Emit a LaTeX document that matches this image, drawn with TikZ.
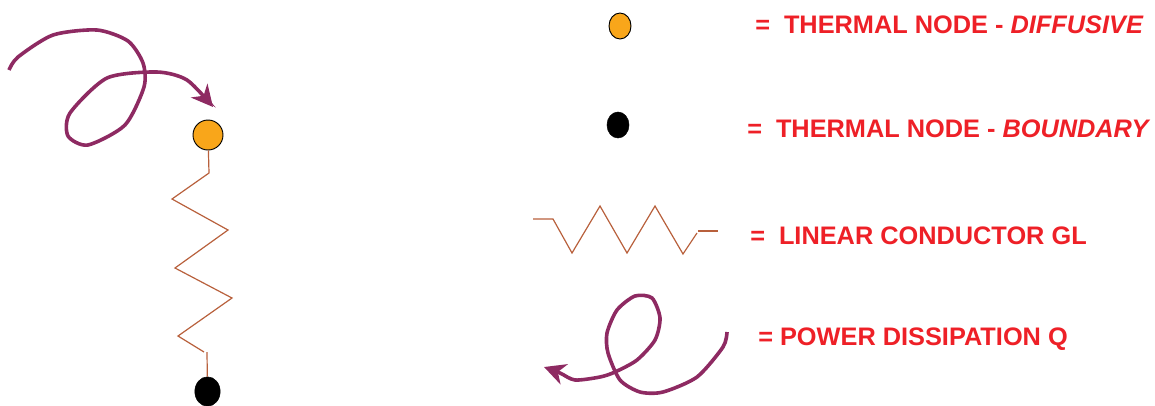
\documentclass[tikz,border=0pt]{standalone}
\usepackage{fontspec}
\setmainfont{Liberation Sans}
\usepackage{xcolor}
\usetikzlibrary{arrows.meta,positioning,shapes.geometric}
\definecolor{powerpurple}{HTML}{8E2A62}
\definecolor{nodeorange}{HTML}{F9A61A}
\definecolor{legendred}{HTML}{EE2027}
\definecolor{condbrown}{HTML}{B8603C}

\begin{document}
\begin{tikzpicture}[
  x=0.75pt, y=-0.75pt,
  diffusive/.style={draw=black, fill=nodeorange, ellipse, line width=0.7pt, inner sep=0pt},
  boundary/.style={draw=black, fill=black, ellipse, inner sep=0pt},
  cond/.style={draw=condbrown, line width=0.9pt, line join=miter},
  power/.style={draw=powerpurple, line width=2.7pt, -{Stealth[length=16pt, width=16pt, inset=5pt]}},
  legend/.style={anchor=base west, inner sep=0pt, text=legendred, font=\fontsize{19}{22}\selectfont\bfseries}
]
  \useasboundingbox (0,0) rectangle (1155,405);

  \node[diffusive, minimum width=22.5pt, minimum height=22.5pt] (dn) at (208,135) {};
  \node[boundary, minimum width=19pt, minimum height=22pt] (bn) at (207.5,391.5) {};
  \node[diffusive, minimum width=16.5pt, minimum height=19.5pt] (legdn) at (620,26) {};
  \node[boundary, minimum width=16.5pt, minimum height=19.5pt] (legbn) at (618,125) {};

  \node[legend] (tdn) at (755,33.5) {=\hspace{0.55em}THERMAL NODE - \textit{DIFFUSIVE}};
  \node[legend] (tbn) at (747,137) {=\hspace{0.55em}THERMAL NODE - \textit{BOUNDARY}};
  \node[legend] (tgl) at (750,244) {=\hspace{0.55em}LINEAR CONDUCTOR GL};
  \node[legend] (tq) at (758,345.5) {= POWER DISSIPATION Q};

  \coordinate (rt) at (209,173);
  \coordinate (rb) at (204,352);
  \coordinate (rc) at (207,352);
  \coordinate (ll) at (533,219);
  \coordinate (lr) at (697,233);
  \coordinate (lc) at (698,231);
  \coordinate (le) at (718,231);
  \coordinate (ps) at (9,70);
  \coordinate (pe) at (213,107);
  \coordinate (qs) at (727,332);
  \coordinate (qe) at (544,367);

  \draw[cond] (dn) -- (rt) -- (172,199) -- (228,230) -- (175,268) -- (232,298) -- (178,336) -- (rb);
  \draw[cond] (rc) -- (bn);
  \draw[cond] (ll) -- (553,219) -- (572,253) -- (600,206) -- (627,253) -- (655,206) -- (683,254) -- (lr);
  \draw[cond] (lc) -- (le);

  \draw[power] plot[smooth, tension=0.45] coordinates {(ps) (18,57) (53,35) (97,30) (128,41) (143,63) (144,87) (125,125) (88,145) (68,136) (70,113) (107,78) (157,72) (187,80) (pe)};
  \draw[power] plot[smooth, tension=0.45] coordinates {(qs) (723,347) (697,377) (663,392) (640,392) (620,380) (608,353) (607,333) (617,310) (635,296) (652,298) (660,318) (655,340) (637,360) (615,372) (600,377) (575,380) (560,373) (qe)};
\end{tikzpicture}
\end{document}
